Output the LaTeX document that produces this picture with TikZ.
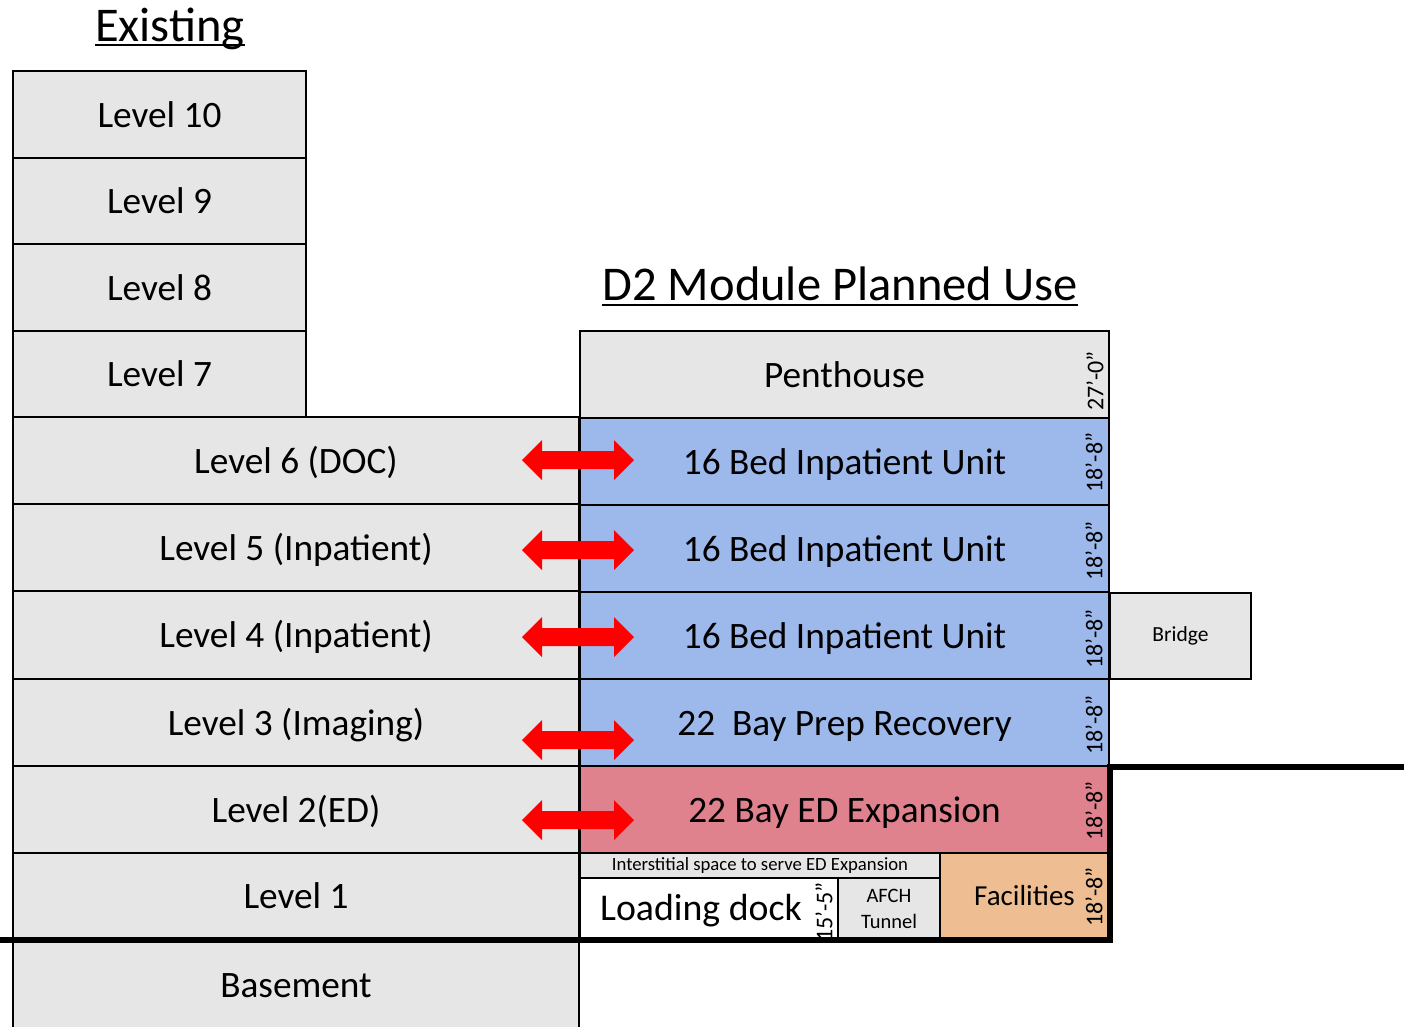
\documentclass[tikz,border=0pt]{standalone}
\usepackage{fontspec}
\setmainfont{Carlito}
\definecolor{lgrey}{RGB}{230,230,230}
\definecolor{lblue}{RGB}{157,185,236}
\definecolor{lred}{RGB}{224,130,142}
\definecolor{lorange}{RGB}{238,190,146}
\definecolor{arrowred}{RGB}{255,0,0}
\tikzset{
  box/.style={draw=black, line width=2.5pt, fill=lgrey, inner sep=0pt, text=black,
    font=\fontsize{37.3}{40}\selectfont},
  mbox/.style={box, text height=28pt, text depth=2.4pt},
  lbox/.style={mbox, minimum width=293pt},
  wbox/.style={mbox, minimum width=566pt},
  rbox/.style={mbox, minimum width=529pt},
  dimlabel/.style={rotate=90, inner sep=0pt, font=\fontsize{24}{26}\selectfont},
  title/.style={inner sep=0pt, anchor=base, font=\fontsize{48.5}{52}\selectfont},
  uline/.style={line width=2.5pt},
  thickline/.style={line width=5.5pt, line cap=rect},
  dblarrow/.pic={\fill[arrowred] (-56,0) -- (-36,-20) -- (-36,-9) -- (36,-9) -- (36,-20)
     -- (56,0) -- (36,20) -- (36,9) -- (-36,9) -- (-36,20) -- cycle;}
}
\begin{document}
\begin{tikzpicture}[x=1pt,y=-1pt]
\useasboundingbox (0,0) rectangle (1404,1026);
\clip (0,0) rectangle (1404,1026);
% titles
\node[title] (ex) at (170,41) {Existing};
\draw[uline] ([yshift=-4pt]ex.base west) -- ([yshift=-4pt]ex.base east);
\node[title] (d2) at (840,300) {D2 Module Planned Use};
\draw[uline] ([yshift=-5pt]d2.base west) -- ([yshift=-5pt]d2.base east);
% existing tower
\node[lbox, minimum height=87pt] (l10) at (159.5,114.5) {Level 10};
\node[lbox, minimum height=86pt] (l9) at (159.5,201) {Level 9};
\node[lbox, minimum height=87pt] (l8) at (159.5,287.5) {Level 8};
\node[lbox, minimum height=86pt] (l7) at (159.5,374) {Level 7};
\node[wbox, minimum height=87pt] (l6) at (296,460.5) {Level 6 (DOC)};
\node[wbox, minimum height=87pt] (l5) at (296,547.5) {Level 5 (Inpatient)};
\node[wbox, minimum height=88pt] (l4) at (296,635) {Level 4 (Inpatient)};
\node[wbox, minimum height=87pt] (l3) at (296,722.5) {Level 3 (Imaging)};
\node[wbox, minimum height=87pt] (l2) at (296,809.5) {Level 2(ED)};
\node[wbox, minimum height=86pt] (l1) at (296,896) {Level 1};
\node[wbox, minimum height=101pt, text depth=13pt] (base) at (296,989.5) {Basement};
% module
\node[rbox, minimum height=87pt] (pent) at (844.5,374.5) {Penthouse};
\node[rbox, minimum height=87pt, fill=lblue] (ip6) at (844.5,461.5) {16 Bed Inpatient Unit};
\node[rbox, minimum height=87pt, fill=lblue] (ip5) at (844.5,548.5) {16 Bed Inpatient Unit};
\node[rbox, minimum height=87pt, fill=lblue] (ip4) at (844.5,635.5) {16 Bed Inpatient Unit};
\node[rbox, minimum height=87pt, fill=lblue] (prep) at (844.5,722.5) {22\ \ Bay Prep Recovery};
\node[rbox, minimum height=87pt, fill=lred] (ed) at (844.5,809.5) {22 Bay ED Expansion};
\node[box, minimum width=360pt, minimum height=25pt, font=\fontsize{18.7}{20}\selectfont] (inter) at (760,865.5) {Interstitial space to serve ED Expansion};
\node[box, minimum width=258pt, minimum height=61pt, fill=white, text height=28pt, text depth=5pt, font=\fontsize{37.8}{40}\selectfont] (load) at (709,908.5) {Loading dock\kern16pt};
\node[box, minimum width=102pt, minimum height=61pt, align=center, font=\fontsize{20.5}{26}\selectfont] (afch) at (889,908.5) {AFCH\\Tunnel};
\node[box, minimum width=169pt, minimum height=86pt, fill=lorange, font=\fontsize{29}{32}\selectfont] (fac) at (1024.5,896) {Facilities};
\node[box, minimum width=141pt, minimum height=86pt, font=\fontsize{21.5}{24}\selectfont] (bridge) at (1180.5,636) {Bridge};
% dimensions
\node[dimlabel] (dpent) at (1095,381) {27’-0”};
\node[dimlabel] (d6) at (1094,462.5) {18’-8”};
\node[dimlabel] (d5) at (1094,551) {18’-8”};
\node[dimlabel] (d4) at (1094,639) {18’-8”};
\node[dimlabel] (d3) at (1094,725) {18’-8”};
\node[dimlabel] (d2d) at (1094,811) {18’-8”};
\node[dimlabel] (dfac) at (1094,897) {18’-8”};
\node[dimlabel] (dload) at (824,912) {15’-5”};
% thick ground lines
\draw[thickline] (1404,767) -- (1110,767) -- (1110,940) -- (0,940);
% arrows
\pic (a6) at (578,460) {dblarrow};
\pic (a5) at (578,550) {dblarrow};
\pic (a4) at (578,637) {dblarrow};
\pic (a3) at (578,740) {dblarrow};
\pic (a2) at (578,820) {dblarrow};
\end{tikzpicture}
\end{document}
